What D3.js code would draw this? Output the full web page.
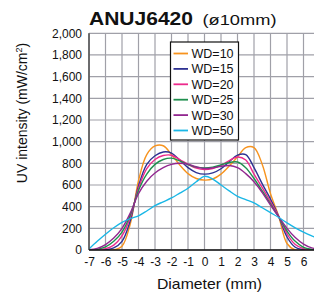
<!DOCTYPE html>
<html>
<head>
<meta charset="utf-8">
<script src="https://cdn.jsdelivr.net/npm/d3@7"></script>
<style>
    body { margin: 0; background: #fff; }
    svg { display: block; font-family: "Liberation Sans", Arial, sans-serif; }
</style>
</head>
<body>
<svg id="chart" width="314" height="295"></svg>
<script>
// diameter positions (mm)
var diameters = [-7, -6.5, -6, -5.5, -5, -4.5, -4, -3.5, -3, -2.5, -2, -1.5, -1, -0.5, 0,
    0.5, 1, 1.5, 2, 2.5, 3, 3.5, 4, 4.5, 5, 5.5, 6, 6.5, 7];

var seriesNames = ['WD=10', 'WD=15', 'WD=20', 'WD=25', 'WD=30', 'WD=50'];
var seriesColors = ['#f7931e', '#2e3192', '#ec2a8c', '#1f8f4e', '#92278f', '#1ab7e6'];

var wd10 = [0, 0, 0, 0, 35, 240, 640, 880, 960, 962, 880, 785, 705, 660, 645,
    655, 700, 775, 860, 945, 945, 790, 520, 310, 60, 0, 0, 0, 0];
var wd15 = [0, 0, 3, 20, 80, 270, 590, 790, 870, 905, 895, 830, 760, 715, 700,
    712, 750, 815, 875, 880, 760, 610, 470, 310, 120, 25, 3, 0, 0];
var wd20 = [0, 2, 12, 45, 130, 300, 570, 750, 835, 872, 875, 835, 790, 755, 742,
    752, 780, 825, 858, 830, 700, 575, 445, 310, 150, 50, 12, 2, 0];
var wd25 = [0, 6, 28, 80, 165, 320, 550, 700, 790, 835, 848, 822, 788, 765, 758,
    765, 785, 808, 812, 760, 660, 545, 425, 305, 175, 80, 25, 6, 0];
var wd30 = [3, 15, 50, 110, 200, 340, 520, 635, 710, 760, 790, 800, 792, 768, 752,
    758, 772, 780, 760, 705, 630, 530, 415, 305, 200, 115, 55, 20, 5];
var wd50 = [10, 80, 145, 205, 255, 290, 315, 360, 410, 445, 480, 525, 570, 630, 680,
    655, 600, 545, 495, 465, 435, 390, 345, 300, 250, 205, 165, 130, 100];

var seriesValues = [wd10, wd15, wd20, wd25, wd30, wd50];

var xTicks = [-7, -6, -5, -4, -3, -2, -1, 0, 1, 2, 3, 4, 5, 6];
var xGrid = [-7, -6, -5, -4, -3, -2, -1, 0, 1, 2, 3, 4, 5, 6, 7];
var yTicks = [0, 200, 400, 600, 800, 1000, 1200, 1400, 1600, 1800, 2000];

var plotLeft = 89, plotRight = 320, plotTop = 33.3, plotBottom = 250;

var svg = d3.select('#chart');

var x = d3.scaleLinear().domain([-7, 7]).range([plotLeft, plotRight]);
var y = d3.scaleLinear().domain([0, 2000]).range([plotBottom, plotTop]);

svg.append('defs')
    .append('clipPath')
    .attr('id', 'plotClip')
    .append('rect')
    .attr('x', plotLeft)
    .attr('y', plotTop - 5)
    .attr('width', plotRight - plotLeft)
    .attr('height', plotBottom - plotTop + 5);

// grid
var grid = svg.append('g').attr('class', 'grid');
grid.selectAll('.vline')
    .data(xGrid)
    .enter()
    .append('line')
    .attr('x1', function (d) { return x(d); })
    .attr('x2', function (d) { return x(d); })
    .attr('y1', plotTop)
    .attr('y2', plotBottom)
    .attr('stroke', '#a0a0a8')
    .attr('stroke-width', 1.2);
grid.selectAll('.hline')
    .data(yTicks)
    .enter()
    .append('line')
    .attr('x1', plotLeft)
    .attr('x2', plotRight)
    .attr('y1', function (d) { return y(d); })
    .attr('y2', function (d) { return y(d); })
    .attr('stroke', '#a0a0a8')
    .attr('stroke-width', 1.2);

// axes
var xAxis = svg.append('g')
    .attr('transform', `translate(0,${plotBottom})`)
    .call(d3.axisBottom(x).tickValues(xTicks).tickSize(0).tickPadding(7)
        .tickFormat(function (d) { return String(d); }));
xAxis.select('.domain').remove();
xAxis.selectAll('text')
    .attr('font-family', '"Liberation Sans", Arial, sans-serif')
    .attr('font-size', 12)
    .attr('fill', '#111');

var yAxis = svg.append('g')
    .attr('transform', `translate(${plotLeft},0)`)
    .call(d3.axisLeft(y).tickValues(yTicks).tickSize(0).tickPadding(7)
        .tickFormat(d3.format(',')));
yAxis.select('.domain').remove();
yAxis.selectAll('text')
    .attr('font-family', '"Liberation Sans", Arial, sans-serif')
    .attr('font-size', 12)
    .attr('fill', '#111');

// curves
var line = d3.line()
    .x(function (d) { return x(d[0]); })
    .y(function (d) { return y(d[1]); })
    .curve(d3.curveCatmullRom.alpha(0.5));

var plot = svg.append('g').attr('clip-path', 'url(#plotClip)');
plot.selectAll('.curve')
    .data(seriesValues)
    .enter()
    .append('path')
    .attr('class', 'curve')
    .attr('fill', 'none')
    .attr('stroke', function (d, i) { return seriesColors[i]; })
    .attr('stroke-width', 1.4)
    .attr('d', function (d) {
        return line(d.map(function (v, i) { return [diameters[i], v]; }));
    });

// axis lines
svg.append('line')
    .attr('x1', plotLeft).attr('x2', plotLeft)
    .attr('y1', plotTop).attr('y2', plotBottom)
    .attr('stroke', '#555')
    .attr('stroke-width', 1.6);
svg.append('line')
    .attr('x1', plotLeft).attr('x2', plotRight)
    .attr('y1', plotBottom).attr('y2', plotBottom)
    .attr('stroke', '#111')
    .attr('stroke-width', 1.6);

// legend
var legend = svg.append('g').attr('transform', 'translate(170,42)');
legend.append('rect')
    .attr('x', 0.5)
    .attr('y', 0)
    .attr('width', 68)
    .attr('height', 98)
    .attr('fill', '#fff')
    .attr('stroke', '#111')
    .attr('stroke-width', 1.2);
var items = legend.selectAll('.item')
    .data(seriesNames)
    .enter()
    .append('g')
    .attr('class', 'item')
    .attr('transform', function (d, i) { return `translate(0,${11.5 + i * 15.4})`; });
items.append('line')
    .attr('x1', 3.5)
    .attr('x2', 18)
    .attr('y1', 0)
    .attr('y2', 0)
    .attr('stroke', function (d, i) { return seriesColors[i]; })
    .attr('stroke-width', 1.8);
items.append('text')
    .attr('x', 21.5)
    .attr('y', 4.5)
    .attr('font-size', 12.5)
    .attr('fill', '#111')
    .text(function (d) { return d; });

// title
svg.append('text')
    .attr('x', 89)
    .attr('y', 25)
    .attr('font-size', 18.5)
    .attr('font-weight', 'bold')
    .attr('textLength', 104)
    .attr('lengthAdjust', 'spacingAndGlyphs')
    .attr('fill', '#111')
    .text('ANUJ6420');
svg.append('text')
    .attr('x', 202.5)
    .attr('y', 25)
    .attr('font-size', 15)
    .attr('textLength', 74)
    .attr('lengthAdjust', 'spacingAndGlyphs')
    .attr('fill', '#111')
    .text('(ø10mm)');

// axis titles
svg.append('text')
    .attr('x', 157)
    .attr('y', 289)
    .attr('font-size', 14.5)
    .attr('textLength', 105)
    .attr('lengthAdjust', 'spacingAndGlyphs')
    .attr('fill', '#111')
    .text('Diameter (mm)');

var yTitle = svg.append('text')
    .attr('transform', 'translate(27,113) rotate(-90)')
    .attr('text-anchor', 'middle')
    .attr('font-size', 14)
    .attr('fill', '#111');
yTitle.append('tspan').text('UV intensity (mW/cm');
yTitle.append('tspan').attr('font-size', 9).attr('dy', -5).text('2');
yTitle.append('tspan').attr('dy', 5).text(')');
</script>
</body>
</html>
